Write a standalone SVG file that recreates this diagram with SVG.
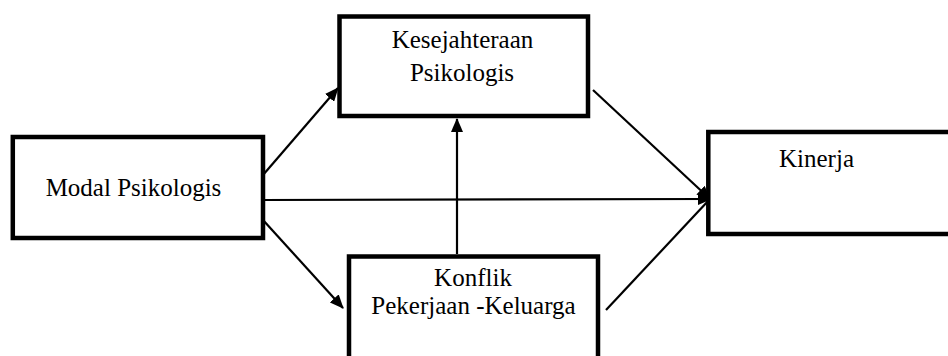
<svg xmlns="http://www.w3.org/2000/svg" width="948" height="356" viewBox="0 0 948 356">
  <style>
    .box { fill: #fff; stroke: #000; stroke-width: 4.5; }
    .lbl { font-family: "Liberation Serif", "Times New Roman", serif; font-size: 25px; fill: #000; text-anchor: middle; }
    .conn { stroke: #000; stroke-width: 2.2; fill: none; }
  </style>
  <defs>
    <marker id="arr" markerUnits="userSpaceOnUse" markerWidth="14" markerHeight="12" viewBox="0 0 14 12" refX="13" refY="6" orient="auto">
      <path d="M0,0 L14,6 L0,12 Z" fill="#000"/>
    </marker>
  </defs>
  <rect width="948" height="356" fill="#fff"/>
  <g id="connectors">
    <line class="conn" x1="263" y1="175" x2="338" y2="88" marker-end="url(#arr)"/>
    <line class="conn" x1="263" y1="220" x2="343" y2="308" marker-end="url(#arr)"/>
    <line class="conn" x1="263" y1="200" x2="711" y2="199" marker-end="url(#arr)"/>
    <line class="conn" x1="593" y1="90" x2="710" y2="199" marker-end="url(#arr)"/>
    <line class="conn" x1="606" y1="310" x2="709" y2="200"/>
    <line class="conn" x1="457" y1="254" x2="457" y2="119" marker-end="url(#arr)"/>
  </g>
  <g id="node-kesejahteraan">
    <rect class="box" x="339.5" y="16.5" width="248.5" height="99.5"/>
    <text class="lbl" x="462.5" y="48">Kesejahteraan</text>
    <text class="lbl" x="462" y="81">Psikologis</text>
  </g>
  <g id="node-modal">
    <rect class="box" x="12.8" y="137" width="250.2" height="101"/>
    <text class="lbl" x="133.5" y="196">Modal Psikologis</text>
  </g>
  <g id="node-kinerja">
    <rect class="box" x="708.3" y="132" width="260" height="102"/>
    <text class="lbl" x="816.5" y="166.5">Kinerja</text>
  </g>
  <g id="node-konflik">
    <rect class="box" x="349" y="256.5" width="249" height="120"/>
    <text class="lbl" x="473" y="285.5">Konflik</text>
    <text class="lbl" x="473.5" y="314">Pekerjaan -Keluarga</text>
  </g>
</svg>
